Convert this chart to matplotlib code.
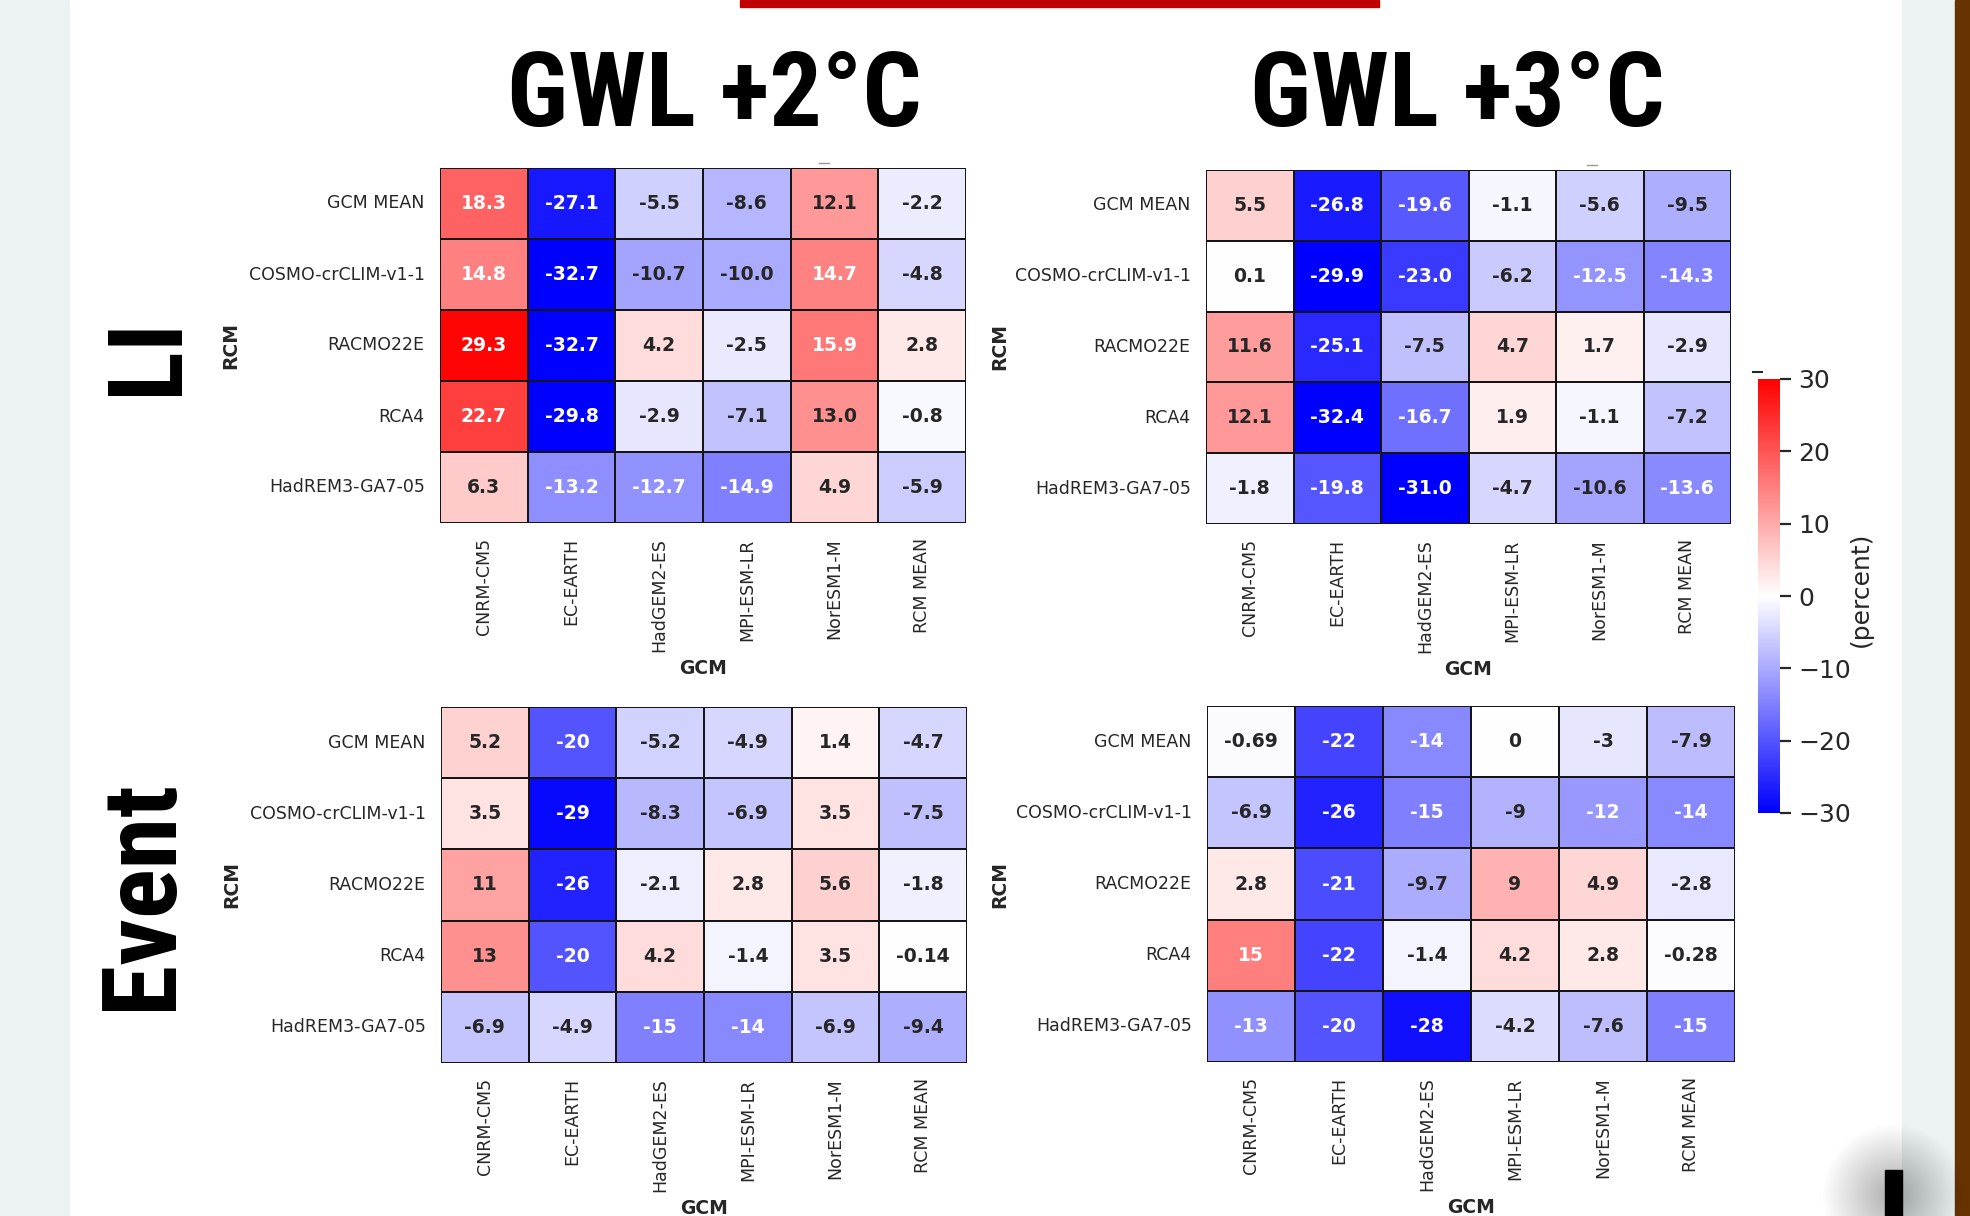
import matplotlib
matplotlib.use("Agg")
import matplotlib.pyplot as plt
import seaborn as sns
import pandas as pd
from matplotlib import font_manager
from matplotlib.font_manager import FontProperties
from matplotlib.patches import Rectangle, Ellipse
from matplotlib.lines import Line2D
from matplotlib.cm import ScalarMappable
from matplotlib.colors import Normalize

# labels
gcms = ["CNRM-CM5", "EC-EARTH", "HadGEM2-ES", "MPI-ESM-LR", "NorESM1-M", "RCM MEAN"]
rcms = ["GCM MEAN", "COSMO-crCLIM-v1-1", "RACMO22E", "RCA4", "HadREM3-GA7-05"]

# LI change (percent)
li_2 = [[18.3, -27.1, -5.5, -8.6, 12.1, -2.2],
        [14.8, -32.7, -10.7, -10.0, 14.7, -4.8],
        [29.3, -32.7, 4.2, -2.5, 15.9, 2.8],
        [22.7, -29.8, -2.9, -7.1, 13.0, -0.8],
        [6.3, -13.2, -12.7, -14.9, 4.9, -5.9]]
li_3 = [[5.5, -26.8, -19.6, -1.1, -5.6, -9.5],
        [0.1, -29.9, -23.0, -6.2, -12.5, -14.3],
        [11.6, -25.1, -7.5, 4.7, 1.7, -2.9],
        [12.1, -32.4, -16.7, 1.9, -1.1, -7.2],
        [-1.8, -19.8, -31.0, -4.7, -10.6, -13.6]]

# Event change (percent)
ev_2 = [[5.2, -20, -5.2, -4.9, 1.4, -4.7],
        [3.5, -29, -8.3, -6.9, 3.5, -7.5],
        [11, -26, -2.1, 2.8, 5.6, -1.8],
        [13, -20, 4.2, -1.4, 3.5, -0.14],
        [-6.9, -4.9, -15, -14, -6.9, -9.4]]
ev_3 = [[-0.69, -22, -14, 0, -3, -7.9],
        [-6.9, -26, -15, -9, -12, -14],
        [2.8, -21, -9.7, 9, 4.9, -2.8],
        [15, -22, -1.4, 4.2, 2.8, -0.28],
        [-13, -20, -28, -4.2, -7.6, -15]]

cbar_ticks = [30, 20, 10, 0, -10, -20, -30]

dark = "#262626"
plt.rcParams["text.color"] = dark
plt.rcParams["axes.labelcolor"] = dark
plt.rcParams["xtick.color"] = dark
plt.rcParams["ytick.color"] = dark


def is_bold(w):
    if isinstance(w, str):
        return w in ("bold", "heavy", "black", "extra bold", "semibold", "demibold")
    return w >= 600


# look for a narrow bold font for the big headings
big_font, big_size = None, 60
for want, size in [("Liberation Sans Narrow", 78), ("Roboto Condensed", 75), ("Open Sans Condensed", 72),
                   ("DejaVu Sans Condensed", 66)]:
    for f in font_manager.fontManager.ttflist:
        if f.name == want and is_bold(f.weight) and f.style == "normal":
            big_font, big_size = f.fname, size
            break
    if big_font:
        break
if big_font is None:
    for f in font_manager.fontManager.ttflist:
        if f.name == "DejaVu Sans" and f.stretch == "condensed" and is_bold(f.weight) and f.style == "normal":
            big_font, big_size = f.fname, 66
            break
if big_font:
    big_fp = FontProperties(fname=big_font, size=big_size)
else:
    big_fp = FontProperties(family="DejaVu Sans", weight="bold", size=big_size)

W, H = 1970, 1216
fig = plt.figure(figsize=(W / 100, H / 100), dpi=100, facecolor="white")


def fx(px):
    return px / W


def fy(py):
    return 1 - py / H


# page decorations around the figure
fig.patches.append(Rectangle((0, 0), fx(69), 1, transform=fig.transFigure, color="#ECF2F2", zorder=0))
fig.patches.append(Rectangle((fx(1902), 0), fx(53), 1, transform=fig.transFigure, color="#ECF2F2", zorder=0))
fig.patches.append(Rectangle((fx(1955), 0), fx(15), 1, transform=fig.transFigure, color="#663300", zorder=0))
fig.patches.append(Rectangle((fx(740), fy(7)), fx(639), 7 / H, transform=fig.transFigure, color="#C00000", zorder=0))
for i in range(24):
    r = 70 - i * 2.6
    fig.patches.append(Ellipse((fx(1893), fy(1195)), 2 * r / W, 2 * r / H, transform=fig.transFigure,
                               color="black", alpha=0.012, lw=0, zorder=0))
fig.patches.append(Rectangle((fx(1885), 0), fx(17), 46 / H, transform=fig.transFigure, color="black", zorder=1))

panels = [
    (li_2, ".1f", [fx(440), fy(523), fx(526), 355 / H], -0.38),
    (li_3, ".1f", [fx(1206), fy(524), fx(525), 354 / H], -0.375),
    (ev_2, ".2g", [fx(441), fy(1063), fx(526), 356 / H], -0.38),
    (ev_3, ".2g", [fx(1207), fy(1062), fx(528), 356 / H], -0.375),
]

for vals, fmt, pos, ylx in panels:
    ax = fig.add_axes(pos)
    df = pd.DataFrame(vals, index=rcms, columns=gcms)
    sns.heatmap(df, ax=ax, cmap="bwr", vmin=-30, vmax=30, annot=True, fmt=fmt,
                annot_kws={"weight": "bold", "size": 13.5}, linewidths=1.4, linecolor="#151515",
                cbar=False)
    ax.set_xticklabels(gcms, rotation=90, fontsize=12.5)
    ax.set_yticklabels(rcms, rotation=0, fontsize=12.5)
    ax.tick_params(length=0, pad=11)
    ax.set_xlabel("GCM", fontsize=13.5, weight="bold")
    ax.set_ylabel("RCM", fontsize=13.5, weight="bold")
    ax.xaxis.set_label_coords(0.5, -0.383)
    ax.yaxis.set_label_coords(ylx, 0.5)

# colour bar
cax = fig.add_axes([fx(1758), fy(813), fx(22), 434 / H])
sm = ScalarMappable(norm=Normalize(-30, 30), cmap="bwr")
cb = fig.colorbar(sm, cax=cax, ticks=cbar_ticks)
cb.outline.set_visible(False)
cax.tick_params(length=8, width=1.6, pad=5, labelsize=18)
fig.text(fx(1861), fy(589), "(percent)", rotation=90, ha="center", va="center", fontsize=18)

# small marks
fig.lines.append(Line2D([fx(819), fx(829)], [fy(163), fy(163)], transform=fig.transFigure, color="#999999", lw=1))
fig.lines.append(Line2D([fx(1587), fx(1597)], [fy(165), fy(165)], transform=fig.transFigure, color="#999999", lw=1))
fig.lines.append(Line2D([fx(1753), fx(1762)], [fy(372), fy(372)], transform=fig.transFigure, color=dark, lw=1.5))

# headings
fig.text(fx(714), fy(126), "GWL +2°C", ha="center", va="baseline", fontproperties=big_fp, color="black")
fig.text(fx(1457), fy(126), "GWL +3°C", ha="center", va="baseline", fontproperties=big_fp, color="black")
fig.text(fx(177), fy(356), "LI", ha="center", va="baseline", rotation=90, rotation_mode="anchor",
         fontproperties=big_fp, color="black")
fig.text(fx(171), fy(895), "Event", ha="center", va="baseline", rotation=90, rotation_mode="anchor",
         fontproperties=big_fp, color="black")

fig.savefig("out.png", dpi=100, facecolor="white")
